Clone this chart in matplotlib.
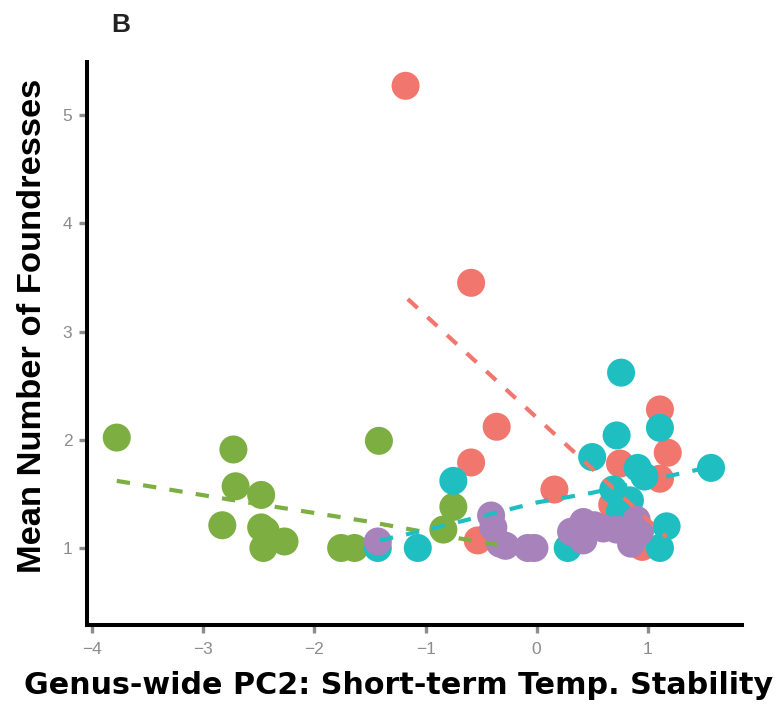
import matplotlib
matplotlib.use("Agg")
import matplotlib.pyplot as plt

# ---- data ----
red_x = [-1.18, -0.59, -0.36, -0.59, 0.16, 1.11, 1.18, 0.75, 1.11, 0.68, 0.95, -0.53]
red_y = [5.27, 3.45, 2.12, 1.79, 1.54, 2.28, 1.88, 1.78, 1.64, 1.40, 1.01, 1.07]

green_x = [-3.78, -2.73, -2.71, -2.48, -2.83, -2.48, -2.44, -2.46, -2.27, -1.76, -1.64, -1.42, -0.75, -0.84]
green_y = [2.02, 1.91, 1.57, 1.49, 1.21, 1.19, 1.16, 1.00, 1.06, 1.00, 1.00, 1.99, 1.38, 1.17]

teal_x = [-0.75, -1.43, -1.07, 0.28, 0.76, 0.72, 1.11, 0.50, 1.57, 0.91, 0.97, 0.69, 0.84, 0.75, 1.17, 1.11]
teal_y = [1.62, 1.00, 1.00, 1.00, 2.62, 2.04, 2.11, 1.84, 1.74, 1.74, 1.66, 1.54, 1.44, 1.34, 1.20, 1.00]

purple_x = [-1.43, -0.41, -0.39, -0.33, -0.28, -0.08, -0.02, 0.31, 0.42, 0.42, 0.52, 0.60, 0.72, 0.85, 0.90, 0.93]
purple_y = [1.06, 1.30, 1.19, 1.04, 1.02, 1.00, 1.00, 1.15, 1.24, 1.07, 1.21, 1.18, 1.17, 1.04, 1.26, 1.15]

# trend lines
red_trend_x = [-1.16, 1.17]
red_trend_y = [3.30, 1.10]
green_trend_x = [-3.78, -2.78, -1.55, -0.65, -0.35]
green_trend_y = [1.62, 1.45, 1.25, 1.08, 1.03]
teal_trend_x = [-1.41, -0.90, 0.00, 0.50, 1.57]
teal_trend_y = [1.07, 1.19, 1.42, 1.51, 1.75]

x_ticks = [-4, -3, -2, -1, 0, 1]
x_tick_labels = ["\u22124", "\u22123", "\u22122", "\u22121", "0", "1"]
y_ticks = [1, 2, 3, 4, 5]

RED = "#F1766D"
GREEN = "#7DAE41"
TEAL = "#1FBEC1"
PURPLE = "#A782BB"

plt.rcParams['font.family'] = ['Liberation Sans', 'DejaVu Sans']

W, H = 776, 705
fig = plt.figure(figsize=(W / 100, H / 100), dpi=100)
ax = fig.add_axes([87 / W, 1 - 624.5 / H, (741.7 - 87) / W, (624.5 - 62) / H])

S = 407
for xs, ys, c in [(red_x, red_y, RED), (green_x, green_y, GREEN),
                  (teal_x, teal_y, TEAL), (purple_x, purple_y, PURPLE)]:
    ax.scatter(xs, ys, s=S, color=c, edgecolors='none', zorder=2)

for xs, ys, c in [(red_trend_x, red_trend_y, RED), (green_trend_x, green_trend_y, GREEN),
                  (teal_trend_x, teal_trend_y, TEAL)]:
    ax.plot(xs, ys, color=c, linewidth=3.0, dashes=(3.2, 3.2), zorder=3,
            dash_capstyle='butt')

ax.set_xlim(-4.048, 1.846)
ax.set_ylim(0.293, 5.49)
ax.set_xticks(x_ticks)
ax.set_xticklabels(x_tick_labels)
ax.set_yticks(y_ticks)

for s in ['top', 'right']:
    ax.spines[s].set_visible(False)
for s in ['left', 'bottom']:
    ax.spines[s].set_linewidth(2.9)
    ax.spines[s].set_color('black')
    ax.spines[s].set_capstyle('projecting')

ax.tick_params(axis='both', colors='#8c8c8c', width=2.4, length=5.5, labelsize=12.5,
               labelcolor='#8c8c8c')
ax.tick_params(axis='x', pad=7)
ax.tick_params(axis='y', pad=5)

ax.set_xlabel("Genus-wide PC2: Short-term Temp. Stability", fontsize=21.7,
              fontweight='bold', family=['DejaVu Sans'])
ax.xaxis.label.set_va('baseline')
ax.xaxis.set_label_coords(399 / W, 1 - 694 / H, transform=fig.transFigure)

ax.set_ylabel("Mean Number of Foundresses", fontsize=24.8, fontweight='bold')
ax.yaxis.label.set_va('baseline')
ax.yaxis.set_label_coords(41 / W, 1 - 326 / H, transform=fig.transFigure)

fig.text(121 / W, 1 - 31.7 / H, "B", fontsize=19, fontweight='bold',
         ha='center', va='baseline', color='#222222')

fig.savefig("out.png", dpi=100)
